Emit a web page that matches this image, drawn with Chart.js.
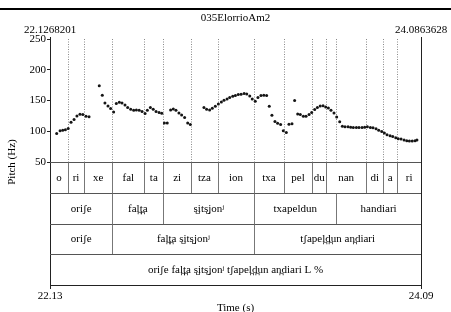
<!DOCTYPE html>
<html><head><meta charset="utf-8">
<script src="https://cdn.jsdelivr.net/npm/chart.js@4.4.0/dist/chart.umd.min.js"></script>
<style>html,body{margin:0;padding:0;background:#fff;}canvas{display:block;}</style>
</head><body>
<canvas id="c" width="451" height="312"></canvas>
<script>
const fileName = '035ElorrioAm2';
const timeStart = 22.1268201;
const timeEnd = 24.0863628;
const timeStartLabel = '22.1268201';
const timeEndLabel = '24.0863628';
const pitchMin = 50;
const pitchMax = 250;
const pitchTicks = [50, 100, 150, 200, 250];

const pitchTimes = [
  22.162, 22.180, 22.194, 22.208, 22.223, 22.238, 22.254, 22.269, 22.285, 22.300, 22.317, 22.333,
  22.387, 22.403, 22.417, 22.433, 22.447, 22.463, 22.477, 22.493, 22.507, 22.523, 22.537, 22.553,
  22.569, 22.583, 22.598, 22.613, 22.629, 22.641, 22.657, 22.672, 22.687, 22.703, 22.717, 22.731,
  22.746, 22.764, 22.778, 22.792, 22.808, 22.822, 22.838, 22.854, 22.868,
  22.940, 22.954, 22.970, 22.984, 23.000, 23.016, 23.032, 23.046, 23.062, 23.076, 23.092, 23.106,
  23.121, 23.136, 23.152, 23.166, 23.182, 23.195, 23.211, 23.225, 23.241, 23.256, 23.271, 23.285,
  23.299, 23.315, 23.329, 23.345, 23.359, 23.375, 23.389, 23.405, 23.419, 23.435, 23.449, 23.465,
  23.479, 23.495, 23.509, 23.525, 23.539, 23.554, 23.569, 23.583, 23.597, 23.611, 23.627, 23.641,
  23.657, 23.671, 23.685, 23.701, 23.715, 23.729, 23.745, 23.759, 23.775, 23.789, 23.803, 23.819,
  23.833, 23.849, 23.863, 23.879, 23.893, 23.907, 23.923, 23.937, 23.953, 23.966, 23.981, 23.997,
  24.011, 24.025, 24.040, 24.055, 24.065
];
const pitchHz = [
  96.5, 100.7, 101.8, 102.3, 104.6, 114.8, 119.1, 125.0, 127.7, 127.2, 124.5, 123.4,
  174.0, 158.5, 146.0, 141.0, 137.0, 131.5, 145.0, 147.0, 146.0, 142.8, 138.6, 135.8,
  134.2, 134.7, 134.2, 132.0, 128.8, 134.2, 138.6, 135.8, 132.0, 130.4, 129.3, 113.6,
  113.6, 134.7, 136.3, 134.2, 129.8, 126.6, 122.4, 113.6, 111.0,
  138.6, 135.8, 134.7, 137.4, 140.7, 144.4, 147.6, 150.4, 152.5, 154.8, 156.9, 158.0,
  159.6, 160.0, 161.2, 160.6, 157.3, 152.5, 148.8, 154.8, 158.0, 158.5, 158.0, 140.7,
  126.0, 115.9, 113.1, 111.0, 100.7, 98.0, 111.5, 112.0, 150.0, 128.2, 127.2, 124.5,
  124.5, 127.2, 130.4, 135.3, 138.6, 141.0, 141.5, 139.5, 138.0, 134.2, 129.8, 123.3,
  115.3, 108.3, 107.2, 107.2, 106.7, 106.2, 106.2, 106.2, 106.2, 106.7, 107.2, 106.2,
  105.6, 104.0, 101.8, 99.7, 97.0, 94.2, 92.6, 91.6, 89.4, 87.7, 87.2, 85.6,
  84.5, 84.0, 84.0, 84.5, 85.6
];

const syllableLabels = ['o', 'ri', 'xe', 'fal', 'ta', 'zi', 'tza', 'ion', 'txa', 'pel', 'du', 'nan', 'di', 'a', 'ri'];
const syllableBounds = [22.1268201, 22.2219, 22.3064, 22.4559, 22.6249, 22.7252, 22.8715, 23.0126, 23.2059,
  23.3612, 23.5122, 23.5857, 23.7959, 23.8873, 23.9612, 24.0863628];
const wordLabels = ['ori\u0283e', 'fal\u032At\u032Aa', 's\u033Aits\u033Ajon\u02B2', 'txapeldun', 'handiari'];
const wordBounds = [22.1268201, 22.4559, 22.7252, 23.2059, 23.6385, 24.0863628];
const phraseLabels = ['ori\u0283e', 'fal\u032At\u032Aa s\u033Aits\u033Ajon\u02B2', 't\u0283apel\u032Ad\u032Aun an\u032Adiari'];
const phraseBounds = [22.1268201, 22.4559, 23.2059, 24.0863628];
const utteranceLabels = ['ori\u0283e fal\u032At\u032Aa s\u033Aits\u033Ajon\u02B2 t\u0283apel\u032Ad\u032Aun an\u032Adiari L %'];
const utteranceBounds = [22.1268201, 24.0863628];

const tiers = [
  { labels: syllableLabels, bounds: syllableBounds },
  { labels: wordLabels, bounds: wordBounds },
  { labels: phraseLabels, bounds: phraseBounds },
  { labels: utteranceLabels, bounds: utteranceBounds }
];
const tierBand = 50;
const SERIF = '"Liberation Serif", "Times New Roman", serif';

function vline(ctx, x, y1, y2) { ctx.beginPath(); ctx.moveTo(x, y1); ctx.lineTo(x, y2); ctx.stroke(); }
function hline(ctx, x1, x2, y) { ctx.beginPath(); ctx.moveTo(x1, y); ctx.lineTo(x2, y); ctx.stroke(); }

const textGridPlugin = {
  id: 'textgrid',
  beforeDatasetsDraw(chart) {
    const { ctx, chartArea: a, scales: { x, y } } = chart;
    ctx.save();
    const yTop = y.getPixelForValue(pitchMax);
    const yBase = y.getPixelForValue(pitchMin);
    const allBounds = new Set();
    tiers.forEach(t => t.bounds.slice(1, -1).forEach(b => allBounds.add(b)));
    ctx.strokeStyle = '#8a8a8a';
    ctx.lineWidth = 1;
    ctx.setLineDash([1, 1.5]);
    allBounds.forEach(t => {
      const px = Math.round(x.getPixelForValue(t)) + 0.5;
      vline(ctx, px, yTop, yBase);
    });
    ctx.setLineDash([]);
    ctx.font = '11px ' + SERIF;
    ctx.textAlign = 'center';
    ctx.textBaseline = 'middle';
    tiers.forEach((tier, i) => {
      const top = Math.round(y.getPixelForValue(pitchMin - i * tierBand)) + 0.5;
      const bot = Math.round(y.getPixelForValue(pitchMin - (i + 1) * tierBand)) + 0.5;
      ctx.strokeStyle = '#555';
      hline(ctx, a.left, a.right, top);
      ctx.strokeStyle = '#777';
      tier.bounds.slice(1, -1).forEach(t => {
        const px = Math.round(x.getPixelForValue(t)) + 0.5;
        vline(ctx, px, top, bot);
      });
      ctx.fillStyle = '#000';
      tier.labels.forEach((lab, j) => {
        const cx = (x.getPixelForValue(tier.bounds[j]) + x.getPixelForValue(tier.bounds[j + 1])) / 2;
        ctx.fillText(lab, cx, (top + bot) / 2);
      });
    });
    ctx.restore();
  },
  afterDraw(chart) {
    const { ctx, chartArea: a } = chart;
    ctx.save();
    ctx.fillStyle = '#000';
    ctx.fillRect(0, 8, chart.width, 2);
    ctx.font = '11px ' + SERIF;
    ctx.textAlign = 'center';
    ctx.textBaseline = 'alphabetic';
    ctx.fillText(fileName, (a.left + a.right) / 2, 20.5);
    ctx.fillText(timeStartLabel, a.left, 33);
    ctx.fillText(timeEndLabel, a.right, 33);
    ctx.strokeStyle = '#222';
    ctx.lineWidth = 1;
    vline(ctx, Math.round(a.right) + 0.5, a.top - 2, a.bottom);
    vline(ctx, Math.round(a.left) + 0.5, a.top - 2, a.top);
    ctx.restore();
  }
};

new Chart(document.getElementById('c'), {
  type: 'scatter',
  data: {
    datasets: [{
      data: pitchTimes.map((t, i) => ({ x: t, y: pitchHz[i] })),
      pointRadius: 1.5,
      pointBackgroundColor: '#151515',
      pointBorderWidth: 0,
      showLine: false
    }]
  },
  options: {
    responsive: false,
    animation: false,
    devicePixelRatio: 1,
    layout: { padding: { top: 39, right: 30, left: 0, bottom: 0 } },
    plugins: { legend: { display: false }, tooltip: { enabled: false }, title: { display: false } },
    scales: {
      x: {
        type: 'linear',
        min: timeStart,
        max: timeEnd,
        afterBuildTicks: s => { s.ticks = [{ value: timeStart }, { value: timeEnd }]; },
        ticks: { autoSkip: false, maxRotation: 0, padding: 1, color: '#000', font: { family: SERIF, size: 11 }, callback: v => Number(v).toFixed(2) },
        grid: { drawOnChartArea: false, tickLength: 4, color: '#222' },
        border: { color: '#222' },
        title: { display: true, text: 'Time (s)', color: '#000', font: { family: SERIF, size: 11, lineHeight: 0.7 }, padding: { top: 0, bottom: 0 } },
        afterFit: s => { s.height = 27; }
      },
      y: {
        type: 'linear',
        min: pitchMin - tiers.length * tierBand,
        max: pitchMax,
        afterBuildTicks: s => { s.ticks = pitchTicks.map(v => ({ value: v })); },
        ticks: { autoSkip: false, padding: 1, color: '#000', font: { family: SERIF, size: 11 } },
        grid: { drawOnChartArea: false, tickLength: 3, color: '#222' },
        border: { color: '#222' },
        title: { display: true, text: 'Pitch (Hz)', color: '#000', font: { family: SERIF, size: 11, lineHeight: 1 }, padding: { top: 6.5, bottom: 0 } },
        afterFit: s => { s.width = 50; }
      }
    }
  },
  plugins: [textGridPlugin]
});
</script>
</body></html>
